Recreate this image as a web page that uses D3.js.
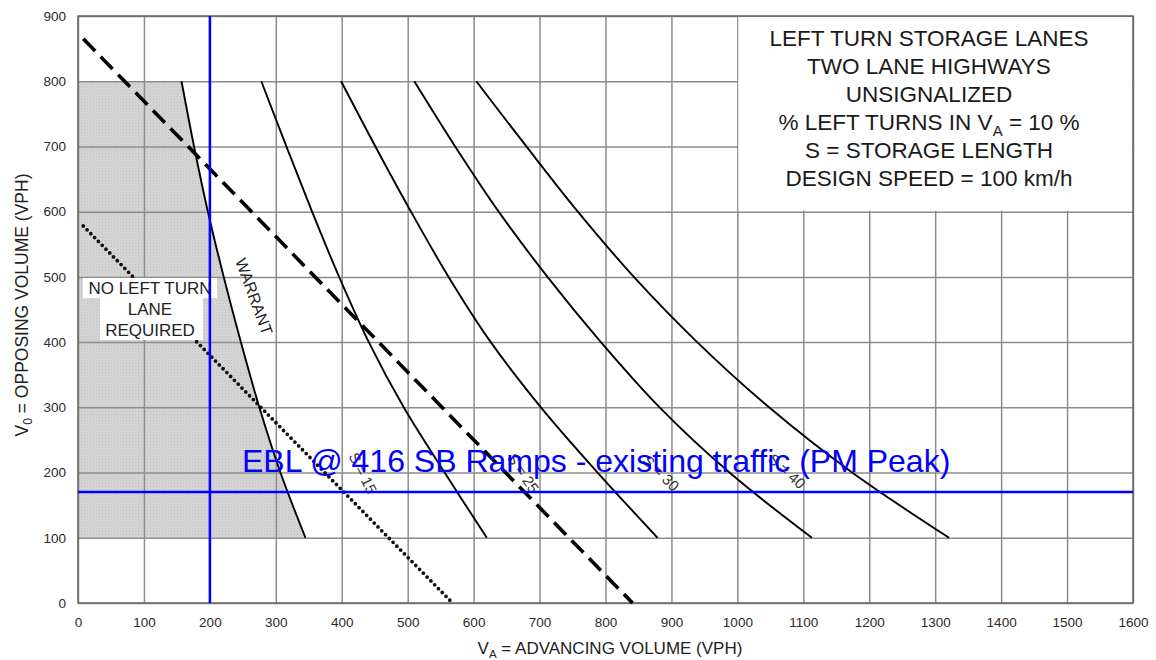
<!DOCTYPE html>
<html>
<head>
<meta charset="utf-8">
<script src="https://cdn.jsdelivr.net/npm/d3@7"></script>
<style>
  html, body { margin: 0; padding: 0; background: #fff; }
  svg { display: block; font-family: "Liberation Sans", Arial, Helvetica, sans-serif; }
</style>
</head>
<body>
<svg id="chart" width="1156" height="660"></svg>
<script>
// Axis ticks (vehicles per hour)
const xTicks = d3.range(0, 1601, 100);
const yTicks = d3.range(0, 901, 100);

// Warrant boundary: [advancing volume, opposing volume]
const warrant = [[157, 800], [176, 700], [197, 600], [221, 500], [247, 400], [275, 300], [307, 200], [345, 100]];

// Storage length curves
const storageS15 = [[278, 800], [316, 700], [355, 600], [396, 500], [441, 400], [494, 300], [556, 200], [620, 100]];
const storageS25 = [[399, 800], [451, 700], [505, 600], [562, 500], [626, 400], [702, 300], [788, 200], [879, 100]];
const storageS30 = [[510, 800], [572, 700], [638, 600], [712, 500], [793, 400], [882, 300], [988, 200], [1113, 100]];
const storageS40 = [[604, 800], [680, 700], [758, 600], [843, 500], [939, 400], [1048, 300], [1174, 200], [1321, 100]];
const storageLabels = ["S = 15", "S = 25", "S = 30", "S = 40"];

// Straight reference lines
const dashedLine = [[8, 865], [841, 0]];
const dottedLine = [[8, 578], [568, 0]];

// Intersection being checked
const studyVA = 200;
const studyVO = 170;
const studyLabel = "EBL @ 416 SB Ramps - existing traffic (PM Peak)";

const titleLines = ["LEFT TURN STORAGE LANES", "TWO LANE HIGHWAYS", "UNSIGNALIZED",
  "% LEFT TURNS IN V_A = 10 %", "S = STORAGE LENGTH", "DESIGN SPEED = 100 km/h"];
const regionLabel = ["NO LEFT TURN", "LANE", "REQUIRED"];

const svg = d3.select("#chart");
const plotL = 78, plotR = 1133, plotT = 16, plotB = 603;
const x = d3.scaleLinear().domain([0, 1600]).range([plotL, plotR]);
const y = d3.scaleLinear().domain([0, 900]).range([plotB, plotT]);

// Dotted fill texture for the no-lane region
const defs = svg.append("defs");
const pat = defs.append("pattern").attr("id", "dots").attr("patternUnits", "userSpaceOnUse")
  .attr("width", 3).attr("height", 3);
pat.append("rect").attr("width", 3).attr("height", 3).attr("fill", "#d6d6d6");
pat.append("rect").attr("width", 1).attr("height", 1).attr("fill", "#bdbdbd");
pat.append("rect").attr("x", 1.5).attr("y", 1.5).attr("width", 1).attr("height", 1).attr("fill", "#c6c6c6");

const region = [[0, 100], [0, 800]].concat(warrant);
svg.append("path")
  .attr("d", d3.line().x(d => x(d[0])).y(d => y(d[1]))(region) + "Z")
  .attr("fill", "url(#dots)");

// Grid and tick labels
const gx = svg.append("g").attr("transform", `translate(0,${plotB})`)
  .call(d3.axisBottom(x).tickValues(xTicks).tickSize(-(plotB - plotT)).tickSizeOuter(0).tickPadding(14).tickFormat(d3.format("d")));
const gy = svg.append("g").attr("transform", `translate(${plotL},0)`)
  .call(d3.axisLeft(y).tickValues(yTicks).tickSize(-(plotR - plotL)).tickSizeOuter(0).tickPadding(12).tickFormat(d3.format("d")));
[gx, gy].forEach(g => {
  g.select(".domain").remove();
  g.selectAll(".tick line").attr("stroke", "#8c8c8c").attr("stroke-width", 1.5);
  g.selectAll(".tick text").attr("fill", "#2a2a2a").style("font-size", "13.5px")
    .style("font-family", "'Liberation Sans', Arial, sans-serif");
});

// Title panel blanks the grid behind it
svg.append("rect").attr("x", x(1000) + 1).attr("y", y(900) + 1)
  .attr("width", x(1600) - x(1000) - 2).attr("height", y(600) - y(900) - 2).attr("fill", "#fff");

// Frame
svg.append("rect").attr("x", plotL).attr("y", plotT).attr("width", plotR - plotL).attr("height", plotB - plotT)
  .attr("fill", "none").attr("stroke", "#666").attr("stroke-width", 1.5);

const line = d3.line().x(d => x(d[0])).y(d => y(d[1]));
const curve = d3.line().x(d => x(d[0])).y(d => y(d[1])).curve(d3.curveCatmullRom.alpha(0.5));

// Dotted reference line
svg.append("path").attr("d", line(dottedLine)).attr("fill", "none").attr("stroke", "#111")
  .attr("stroke-width", 3.8).attr("stroke-dasharray", "0 5.4").attr("stroke-linecap", "round");

// Region label with its white backing
svg.append("rect").attr("x", 83).attr("y", 278).attr("width", 134).attr("height", 20).attr("fill", "#fff");
svg.append("rect").attr("x", 100).attr("y", 297).attr("width", 103).attr("height", 43).attr("fill", "#fff");
svg.append("g").selectAll("text").data(regionLabel).join("text")
  .attr("x", 150).attr("y", (d, i) => 294 + i * 21)
  .attr("text-anchor", "middle").attr("fill", "#222").style("font-size", "17px").text(d => d);

// Dashed reference line
svg.append("path").attr("d", line(dashedLine)).attr("fill", "none").attr("stroke", "#000")
  .attr("stroke-width", 3.6).attr("stroke-dasharray", "17 8");

// Warrant and storage curves
[warrant, storageS15, storageS25, storageS30, storageS40].forEach(c => {
  svg.append("path").attr("d", curve(c)).attr("fill", "none").attr("stroke", "#000").attr("stroke-width", 1.9);
});

svg.append("text").attr("transform", `translate(${x(259)},${y(467)}) rotate(70)`)
  .attr("text-anchor", "middle").attr("fill", "#222").style("font-size", "16px").text("WARRANT");

// Storage curve labels, placed in data units
const labelAnchors = [[432, 199, 63], [675, 199, 56], [884, 199, 44], [1075, 202, 42]];
svg.append("g").selectAll("text").data(storageLabels).join("text")
  .attr("transform", (d, i) => `translate(${x(labelAnchors[i][0])},${y(labelAnchors[i][1])}) rotate(${labelAnchors[i][2]})`)
  .attr("text-anchor", "middle").attr("dy", "0.35em").attr("fill", "#333").style("font-size", "15px").text(d => d);

// Title block
const tb = svg.append("g").attr("fill", "#1a1a1a").style("font-size", "22.5px");
titleLines.forEach((t, i) => {
  const tx = tb.append("text").attr("x", 929).attr("y", 46 + i * 28).attr("text-anchor", "middle");
  const parts = t.split("_A");
  tx.append("tspan").text(parts[0]);
  if (parts.length > 1) {
    tx.append("tspan").attr("dy", 6).style("font-size", "15px").text("A");
    tx.append("tspan").attr("dy", -6).text(parts[1]);
  }
});

// Axis titles
const xt = svg.append("text").attr("x", 610).attr("y", 654).attr("text-anchor", "middle")
  .attr("fill", "#222").style("font-size", "17px");
xt.append("tspan").text("V");
xt.append("tspan").attr("dy", 4).style("font-size", "11.5px").text("A");
xt.append("tspan").attr("dy", -4).text(" = ADVANCING VOLUME (VPH)");

const yt = svg.append("text").attr("transform", `translate(28,${305}) rotate(-90)`).attr("text-anchor", "middle")
  .attr("fill", "#222").style("font-size", "17.5px");
yt.append("tspan").text("V");
yt.append("tspan").attr("dy", 4).style("font-size", "12px").text("0");
yt.append("tspan").attr("dy", -4).text(" = OPPOSING VOLUME (VPH)");

// Study point cross-hairs
svg.append("line").attr("x1", x(studyVA)).attr("x2", x(studyVA)).attr("y1", y(900)).attr("y2", y(0))
  .attr("stroke", "#0000ff").attr("stroke-width", 2.5);
svg.append("line").attr("x1", x(0)).attr("x2", x(1600)).attr("y1", y(studyVO)).attr("y2", y(studyVO))
  .attr("stroke", "#0000ff").attr("stroke-width", 2.5);
svg.append("text").attr("x", 242).attr("y", 472).attr("fill", "#0000ff").style("font-size", "32px").text(studyLabel);
</script>
</body>
</html>
